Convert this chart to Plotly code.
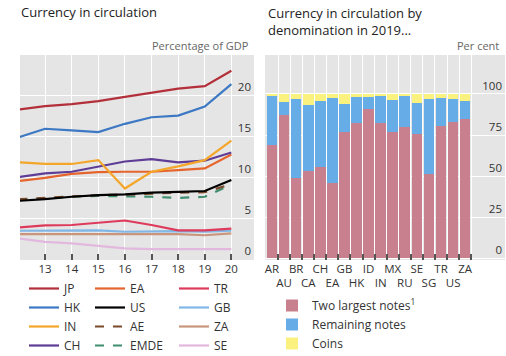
import plotly.graph_objects as go

# ---------------- data ----------------
years = [12, 13, 14, 15, 16, 17, 18, 19, 20]
year_ticks = [13, 14, 15, 16, 17, 18, 19, 20]
year_labels = ["13", "14", "15", "16", "17", "18", "19", "20"]

JP = [18.25, 18.66, 18.9, 19.27, 19.8, 20.3, 20.8, 21.1, 22.97]
HK = [14.84, 15.9, 15.7, 15.5, 16.5, 17.3, 17.5, 18.6, 21.35]
IN = [11.8, 11.6, 11.6, 12.07, 8.6, 10.65, 11.3, 12.07, 14.45]
CH = [10.0, 10.45, 10.65, 11.3, 11.9, 12.2, 11.8, 12.0, 13.0]
EA = [9.5, 9.9, 10.4, 10.6, 10.65, 10.65, 10.85, 11.06, 12.75]
US = [7.1, 7.3, 7.6, 7.8, 7.9, 8.1, 8.2, 8.3, 9.65]
AE = [7.3, 7.45, 7.6, 7.8, 7.85, 8.0, 8.1, 8.15, 9.15]
EMDE = [7.2, 7.4, 7.6, 7.7, 7.65, 7.6, 7.45, 7.6, 9.1]
TR = [3.85, 4.1, 4.15, 4.4, 4.7, 4.15, 3.5, 3.5, 3.72]
GB = [3.45, 3.45, 3.5, 3.5, 3.33, 3.4, 3.4, 3.35, 3.45]
ZA = [3.05, 3.05, 3.05, 3.05, 3.05, 3.05, 3.05, 2.9, 3.13]
SE = [2.5, 2.1, 1.9, 1.6, 1.3, 1.2, 1.2, 1.2, 1.2]

countries = ["AR", "AU", "BR", "CA", "CH", "EA", "GB", "HK", "ID",
             "IN", "MX", "RU", "SE", "SG", "TR", "US", "ZA"]
two_largest = [69.1, 87.4, 48.8, 53.3, 55.4, 45.6, 76.7, 82.5, 90.9,
               82.2, 77.1, 80.1, 75.5, 51.3, 80.7, 83.1, 84.6]
remaining = [30.1, 7.5, 48.4, 40.0, 40.5, 51.8, 17.0, 15.5, 7.5,
             16.6, 19.2, 18.7, 19.2, 45.7, 16.7, 13.9, 11.1]
coins = [0.8, 5.1, 2.8, 6.7, 4.1, 2.6, 6.3, 2.0, 1.6,
         1.2, 3.7, 1.2, 5.3, 3.0, 2.6, 3.0, 4.3]

pct_ticks = [0, 5, 10, 15, 20]
share_ticks = [0, 25, 50, 75, 100]

# ---------------- figure ----------------
W, H = 506, 356
def px_x(p):
    return p / W
def px_y(p):
    return 1 - p / H

FONT = "Open Sans"
fig = go.Figure()

line_specs = [
    ("JP", JP, "#B3303A", "solid", "legend", 1),
    ("HK", HK, "#3C78C3", "solid", "legend", 2),
    ("IN", IN, "#F4A62A", "solid", "legend", 3),
    ("CH", CH, "#5F3C95", "solid", "legend", 4),
    ("EA", EA, "#E5652C", "solid", "legend2", 1),
    ("US", US, "#000000", "solid", "legend2", 2),
    ("AE", AE, "#7A4A2C", "dash", "legend2", 3),
    ("EMDE", EMDE, "#3F8E70", "dash", "legend2", 4),
    ("TR", TR, "#DE3B5C", "solid", "legend3", 1),
    ("GB", GB, "#80B7E6", "solid", "legend3", 2),
    ("ZA", ZA, "#C9967D", "solid", "legend3", 3),
    ("SE", SE, "#E2B8DE", "solid", "legend3", 4),
]
draw_order = ["SE", "ZA", "GB", "TR", "EMDE", "AE", "US", "EA", "CH", "IN", "HK", "JP"]
spec_by_name = {s[0]: s for s in line_specs}
for name in draw_order:
    n, vals, col, dash, leg, rank = spec_by_name[name]
    fig.add_trace(go.Scatter(
        x=years, y=vals, name=n, mode="lines",
        line=dict(color=col, width=2.2, dash=dash),
        xaxis="x", yaxis="y", legend=leg, legendrank=rank,
    ))

bar_specs = [
    ("Two largest notes<sup>1</sup>", two_largest, "#C8808F"),
    ("Remaining notes", remaining, "#66ADE8"),
    ("Coins", coins, "#FBF17E"),
]
for i, (n, vals, col) in enumerate(bar_specs):
    fig.add_trace(go.Bar(
        x=countries, y=vals, name=n, marker=dict(color=col, line=dict(width=0)),
        xaxis="x2", yaxis="y2", legend="legend4", legendrank=i + 1,
    ))

tick_text = [c if i % 2 == 0 else "<br>" + c for i, c in enumerate(countries)]

axis_font = dict(family=FONT, size=11.5, color="#333333")
ydom = [px_y(260), px_y(55)]

fig.update_layout(
    width=W, height=H,
    margin=dict(l=0, r=0, t=0, b=0, autoexpand=False),
    paper_bgcolor="white",
    plot_bgcolor="#E5E5E5",
    barmode="stack",
    bargap=0.12,
    font=dict(family=FONT, color="#333333"),
    xaxis=dict(
        domain=[px_x(20), px_x(254)], range=[12.06, 20.85],
        tickmode="array", tickvals=year_ticks, ticktext=year_labels,
        showgrid=True, gridcolor="white", gridwidth=1.4,
        ticks="inside", ticklen=6, tickwidth=1.5, tickcolor="#555555",
        tickfont=axis_font, zeroline=False, showline=False, tickangle=0,
        anchor="y", automargin=False,
    ),
    yaxis=dict(
        domain=ydom, range=[-0.12, 24.9], side="right",
        tickmode="array", tickvals=pct_ticks,
        ticklabelposition="inside top", ticks="",
        showgrid=True, gridcolor="white", gridwidth=1.4,
        zeroline=False, showline=False, tickfont=axis_font,
        anchor="x", automargin=False,
    ),
    xaxis2=dict(
        domain=[px_x(265), px_x(505)], range=[-0.58, 19.3],
        type="category", tickmode="array", tickvals=countries, ticktext=tick_text,
        tickson="boundaries", tickangle=0,
        showgrid=True, gridcolor="white", gridwidth=1.4,
        ticks="inside", ticklen=6, tickwidth=1.5, tickcolor="#555555",
        tickfont=axis_font, zeroline=False, showline=False,
        anchor="y2", automargin=False,
    ),
    yaxis2=dict(
        domain=ydom, range=[-1, 123.7], side="right",
        tickmode="array", tickvals=share_ticks,
        ticklabelposition="inside top", ticks="",
        showgrid=True, gridcolor="white", gridwidth=1.4,
        zeroline=False, showline=False, tickfont=axis_font,
        anchor="x2", automargin=False,
    ),
)

leg_common = dict(
    orientation="v", yanchor="top", xanchor="left",
    font=dict(family=FONT, size=12, color="#333333"),
    bgcolor="rgba(0,0,0,0)", itemwidth=30, tracegroupgap=0,
    traceorder="normal", y=px_y(274),
)
fig.update_layout(
    legend=dict(x=px_x(24), **leg_common),
    legend2=dict(x=px_x(90), **leg_common),
    legend3=dict(x=px_x(174), **leg_common),
    legend4=dict(x=px_x(272), **{**leg_common, "y": px_y(291)}),
)

ann = [
    dict(text="Currency in circulation", x=px_x(19), y=px_y(12), xanchor="left", yanchor="middle",
         font=dict(family=FONT, size=13, color="#222222")),
    dict(text="Currency in circulation by<br>denomination in 2019...", x=px_x(266), y=px_y(2),
         xanchor="left", yanchor="top", align="left",
         font=dict(family=FONT, size=13, color="#222222")),
    dict(text="Percentage of GDP", x=px_x(251), y=px_y(45), xanchor="right", yanchor="middle",
         font=dict(family=FONT, size=11, color="#666666")),
    dict(text="Per cent", x=px_x(501), y=px_y(45), xanchor="right", yanchor="middle",
         font=dict(family=FONT, size=11, color="#666666")),
]
for a in ann:
    a.update(xref="paper", yref="paper", showarrow=False)
fig.update_layout(annotations=ann)

fig.write_html(
    "out.html",
    config={"displayModeBar": False},
    post_script="document.body.style.margin='0';document.body.style.overflow='hidden';",
)
